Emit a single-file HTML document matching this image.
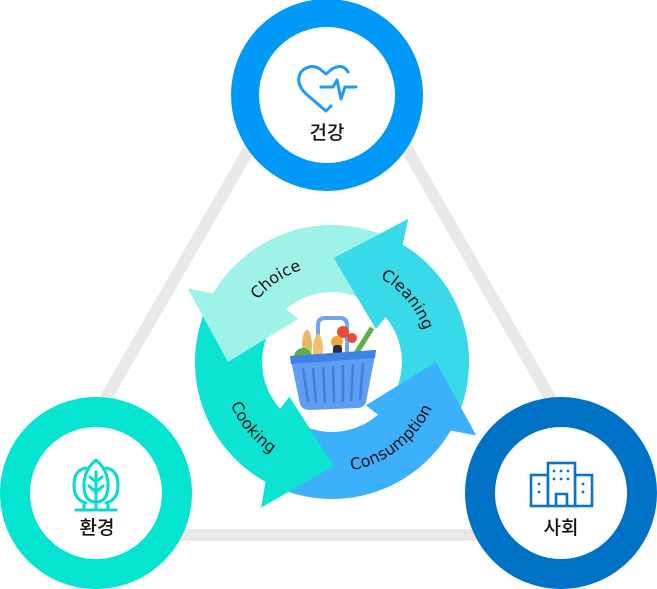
<!DOCTYPE html>
<html><head><meta charset="utf-8">
<style>
html,body{margin:0;padding:0;background:#fff;}
svg{display:block;}
.lbl{font-family:"Liberation Sans","Noto Sans CJK KR",sans-serif;font-size:19px;fill:#111;text-anchor:middle;font-weight:500;}
.arr{font-family:"DejaVu Sans","Liberation Sans",sans-serif;font-size:16px;fill:#111;}
</style></head>
<body>
<svg id="s" width="657" height="589" viewBox="0 0 657 589" xmlns="http://www.w3.org/2000/svg">
<defs>
<clipPath id="top"><rect x="0" y="0" width="657" height="355"/></clipPath>
<path id="cw" d="M332,459 A97,97 0 1 1 332.01,459"/>
<path id="ccw" d="M332,252 A110,110 0 1 0 332.01,252"/>
</defs>
<polygon points="328,12 27,535 629,535" fill="none" stroke="#e9e9e9" stroke-width="12"/>
<g id="arrows"></g>

<!-- basket -->
<g>
 <path d="M318,352 L318,325 Q318,318 325,318 L340,318 Q347,318 347,325 L347,352" fill="none" stroke="#6ea6f5" stroke-width="4"/>
 <ellipse cx="307" cy="346" rx="5" ry="16" fill="#e8b765"/>
 <ellipse cx="318" cy="350" rx="5" ry="16" fill="#f0c070"/>
 <circle cx="343" cy="332" r="6" fill="#e84a3b"/>
 <circle cx="352" cy="338" r="5" fill="#e84a3b"/>
 <circle cx="337" cy="342" r="6" fill="#f2a53a"/>
 <path d="M355,355 L372,328" stroke="#58b041" stroke-width="5"/>
 <circle cx="303" cy="357" r="9" fill="#5cb04c"/>
 <rect x="333" y="345" width="9" height="22" rx="3" fill="#2b2f3c"/>
 <rect x="320" y="355" width="9" height="12" rx="3" fill="#e8eef5"/>
 <path d="M290,356 L376,350 L366,402 Q364,408 357,408 L310,410 Q302,410 300,404 Z" fill="#5e9df2"/>
 <path d="M290,356 L376,350 L375,358 L291,364 Z" fill="#3f82e6"/>
 <g stroke="#3f7fe0" stroke-width="2.5">
  <line x1="303" y1="368" x2="308" y2="402"/><line x1="313" y1="368" x2="316" y2="403"/>
  <line x1="323" y1="367" x2="325" y2="403"/><line x1="333" y1="366" x2="334" y2="403"/>
  <line x1="343" y1="365" x2="343" y2="402"/><line x1="353" y1="364" x2="351" y2="401"/>
  <line x1="363" y1="363" x2="360" y2="400"/>
 </g>
</g>

<text class="arr"><textPath href="#cw" startOffset="40.5%" text-anchor="middle">Choice</textPath></text>
<text class="arr"><textPath href="#cw" startOffset="64%" text-anchor="middle">Cleaning</textPath></text>
<text class="arr"><textPath href="#ccw" startOffset="36%" text-anchor="middle">Cooking</textPath></text>
<text class="arr"><textPath href="#ccw" startOffset="60.5%" text-anchor="middle">Consumption</textPath></text>

<!-- circles -->
<circle cx="327" cy="95" r="82" fill="#fff" stroke="#0099f7" stroke-width="28"/>
<circle cx="96" cy="493" r="81" fill="#fff" stroke="#05e3d1" stroke-width="30"/>
<circle cx="561" cy="493" r="81" fill="#fff" stroke="#0072c5" stroke-width="30"/>

<!-- heart icon -->
<g fill="none" stroke="#1d9bf5" stroke-width="3" stroke-linejoin="round" stroke-linecap="round">
 <path d="M331,106 L326,111 L305,93 Q295,82 301,72 Q310,63 320,69 L326,74 L332,69 Q343,63 348,72"/>
 <path d="M321,87 L333,87 L337,80 L341,99 L345,87 L356,87"/>
</g>
<!-- tree icon -->
<g fill="none" stroke="#05dccb" stroke-width="3" stroke-linejoin="round" stroke-linecap="round">
 <path d="M86,503 Q74,500 74,485 Q74,470 86,468"/>
 <path d="M106,503 Q118,500 118,485 Q118,470 106,468"/>
 <path d="M96,460 Q84,470 84,485 Q84,502 96,502 Q108,502 108,485 Q108,470 96,460 Z"/>
 <path d="M96,472 L96,510 M96,482 L90,477 M96,482 L102,477 M96,492 L89,486 M96,492 L103,486 M84,503 L84,510 M108,503 L108,510 M76,510 L116,510"/>
</g>
<!-- building icon -->
<g fill="none" stroke="#0b74c8" stroke-width="2.6">
 <rect x="531" y="475" width="17" height="31"/><rect x="575" y="475" width="17" height="31"/>
 <rect x="548" y="463" width="27" height="43" fill="#fff"/>
 <path d="M556,506 L556,494 L567,494 L567,506"/>
</g>
<g fill="#0b74c8">
 <circle cx="554" cy="471" r="1.4"/><circle cx="561" cy="471" r="1.4"/><circle cx="568" cy="471" r="1.4"/>
 <circle cx="554" cy="479" r="1.4"/><circle cx="561" cy="479" r="1.4"/><circle cx="568" cy="479" r="1.4"/>
 <circle cx="539" cy="484" r="1.4"/><circle cx="539" cy="492" r="1.4"/>
 <circle cx="583" cy="484" r="1.4"/><circle cx="583" cy="492" r="1.4"/>
</g>

<text class="lbl" x="327" y="139">건강</text>
<text class="lbl" x="97" y="534">환경</text>
<text class="lbl" x="561" y="534">사회</text>
</svg>
<script>
(function(){
var cx=332,cy=362;
function P(r,a){a=a*Math.PI/180;return (cx+r*Math.cos(a)).toFixed(1)+","+(cy-r*Math.sin(a)).toFixed(1);}
function arrow(a0,A,col,clip){
 var ri=70,ro=137;
 var e1=A-3,e2=A-22;
 var lo=(e1-a0)>180?1:0, li=(e2-a0)>180?1:0;
 var d="M"+P(ro,a0)+" A"+ro+","+ro+" 0 "+lo+" 0 "+P(ro,e1)+" L"+P(162,A)+" L"+P(104,A+27)+" L"+P(55,A-25)+" L"+P(ri,e2)+" A"+ri+","+ri+" 0 "+li+" 1 "+P(ri,a0)+" Z";
 return '<path d="'+d+'" fill="'+col+'"'+(clip?' clip-path="url(#top)"':'')+'/>';
}
var h="";
h+=arrow(-42,62,"#38d9e8");
h+=arrow(229,333,"#3db0fb");
h+=arrow(138,244,"#0de3d2");
h+=arrow(47,153,"#9ef2e7");
h+=arrow(-42,62,"#38d9e8",true);
document.getElementById("arrows").innerHTML=h;
})();
</script>
</body></html>
